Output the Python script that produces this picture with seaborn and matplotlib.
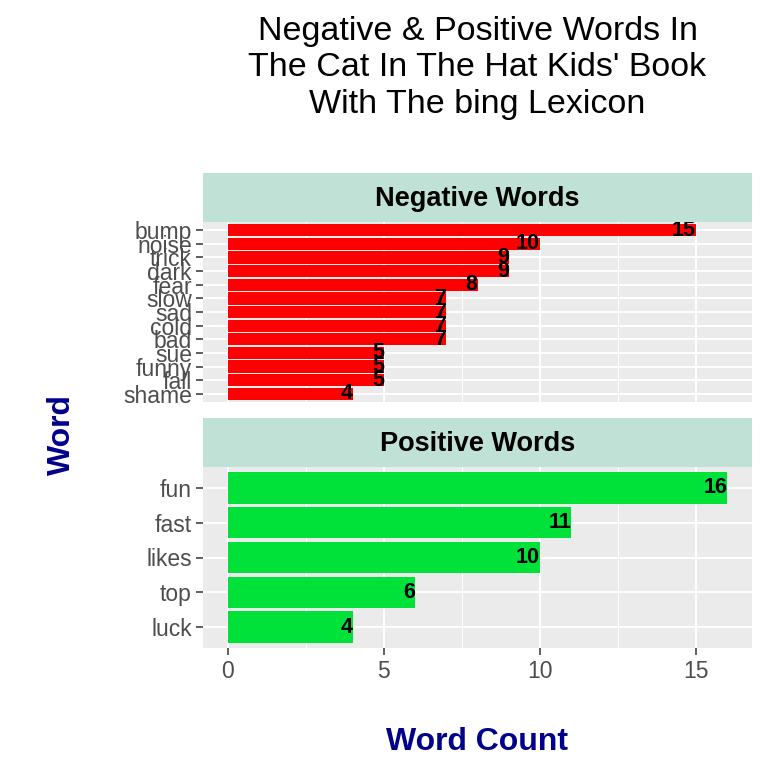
import pandas as pd
import numpy as np
import seaborn as sns
import matplotlib.pyplot as plt
from matplotlib.ticker import MultipleLocator

neg_words = ["bump", "noise", "trick", "dark", "fear", "slow", "sad", "cold", "bad", "sue", "funny", "fall", "shame"]
neg_counts = [15, 10, 9, 9, 8, 7, 7, 7, 7, 5, 5, 5, 4]
pos_words = ["fun", "fast", "likes", "top", "luck"]
pos_counts = [16, 11, 10, 6, 4]

facets = ["Negative Words", "Positive Words"]
bar_colors = {"Negative Words": "#FF0000", "Positive Words": "#00E13A"}

df = pd.concat([
    pd.DataFrame({"word": neg_words, "n": neg_counts, "sentiment": "Negative Words"}),
    pd.DataFrame({"word": pos_words, "n": pos_counts, "sentiment": "Positive Words"}),
])

sns.set_theme(style="white")
plt.rcParams['font.family'] = ['Liberation Sans', 'DejaVu Sans']

fig = plt.figure(figsize=(7.68, 7.68), dpi=100)

L, W = 203 / 768, 549 / 768
strip_h = 49 / 768
panels = {
    "Negative Words": (1 - 402 / 768, 180 / 768),
    "Positive Words": (1 - 648 / 768, 181 / 768),
}

for facet in facets:
    bottom, h = panels[facet]
    ax = fig.add_axes([L, bottom, W, h])
    sub = df[df["sentiment"] == facet]
    ax.set_facecolor("#EBEBEB")
    sns.barplot(data=sub, x="n", y="word", orient="h", color=bar_colors[facet],
                saturation=1, width=0.9, linewidth=0, ax=ax, zorder=2)
    for i, (w, v) in enumerate(zip(sub["word"], sub["n"])):
        ax.text(v, i, str(v), ha="right", va="center", fontsize=15.5,
                fontweight="bold", color="black", zorder=3)
    n = len(sub)
    ax.set_ylim(n - 1 + 0.6, -0.6)
    ax.set_xlim(-0.8, 16.8)
    ax.xaxis.set_major_locator(MultipleLocator(5))
    ax.xaxis.set_minor_locator(MultipleLocator(2.5))
    ax.grid(which="major", color="white", lw=1.4, zorder=0)
    ax.grid(which="minor", axis="x", color="white", lw=0.7, zorder=0)
    ax.set_axisbelow(True)
    for s in ax.spines.values():
        s.set_visible(False)
    ax.set_xlabel("")
    ax.set_ylabel("")
    ax.tick_params(axis="y", which="major", length=5, width=1.1, color="#333333",
                   labelsize=16.5, labelcolor="#4D4D4D", pad=3, left=True)
    if facet == "Negative Words":
        ax.tick_params(axis="x", which="both", bottom=False, labelbottom=False)
    else:
        ax.tick_params(axis="x", which="major", length=5, width=1.1, color="#333333",
                       labelsize=16.5, labelcolor="#4D4D4D", pad=4, bottom=True)
        ax.tick_params(axis="x", which="minor", length=0)

    sax = fig.add_axes([L, bottom + h, W, strip_h])
    sax.set_facecolor("#C0E2D6")
    sax.set_xticks([])
    sax.set_yticks([])
    for s in sax.spines.values():
        s.set_visible(False)
    sax.text(0.5, 0.47, facet, ha="center", va="center", fontsize=19.5,
             fontweight="bold", color="black", transform=sax.transAxes)

fig.text(477.5 / 768, 1 - 68 / 768,
         "Negative & Positive Words In\nThe Cat In The Hat Kids' Book\nWith The bing Lexicon",
         ha="center", va="center", fontsize=24.5, linespacing=1.24, color="black")
fig.text(62 / 768, 1 - 435 / 768, "Word", rotation=90, ha="center", va="center",
         fontsize=23, fontweight="bold", color="#00008B")
fig.text(477.5 / 768, 1 - 742 / 768, "Word Count", ha="center", va="center",
         fontsize=23, fontweight="bold", color="#00008B")

fig.savefig("out.png", dpi=100)
